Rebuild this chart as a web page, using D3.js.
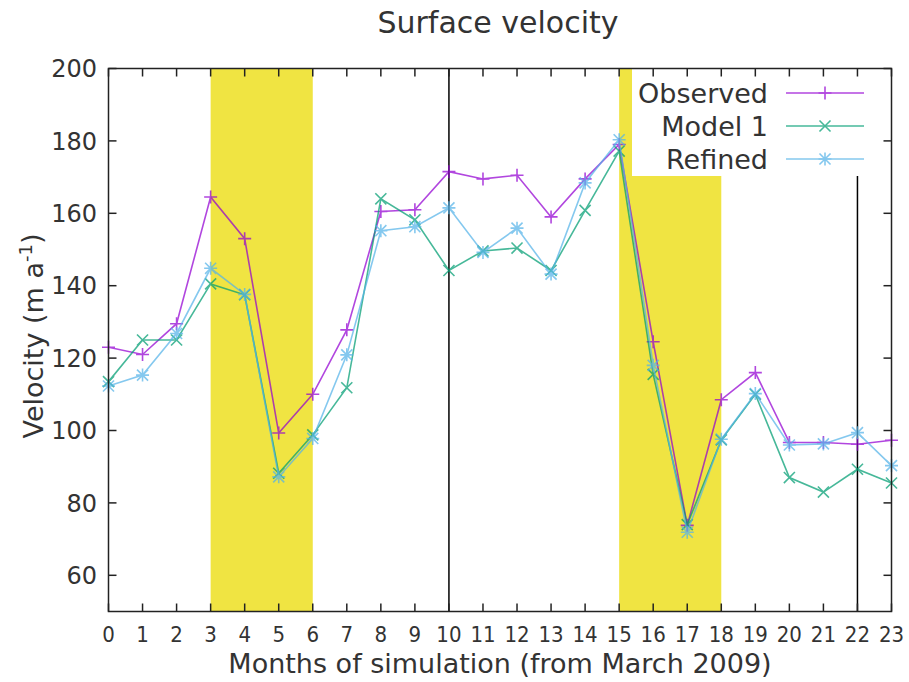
<!DOCTYPE html>
<html><head><meta charset="utf-8">
<script src="https://cdn.jsdelivr.net/npm/d3@7"></script>
<style>
body{margin:0;background:#fff;}
text{font-family:"DejaVu Sans",sans-serif;fill:#333;}
</style></head>
<body><svg id="c" width="909" height="682"></svg>
<script>
const months = d3.range(0, 24);
const observed = [123,121,129.5,164.5,153,99.3,110,127.8,160.5,161,171.5,169.5,170.5,159,169.5,179,124.5,73.8,108.5,116,96.7,96.7,96.2,97.3];
const model1 = [113.5,125,125,140.5,137.5,88.2,98.8,111.8,164,158.2,144.2,149.6,150.4,144.2,160.8,177.2,115.5,74,97.4,110,87,83,89.3,85.5];
const refined = [112.3,115.3,126.8,144.8,137.6,87.2,97.8,120.9,155.2,156.3,161.5,149.2,155.9,143.2,168.4,180.3,118,71.9,97.6,110.2,96,96.3,99.4,90.3];
const seriesNames = ["Observed","Model 1","Refined"];
const xTicks = d3.range(0, 24);
const yTicks = [60,80,100,120,140,160,180,200];
const bands = [[3,6],[15,18]];
const vLines = [10,22];

const svg = d3.select("#c");
const x = d3.scaleLinear().domain([0,23]).range([108.5,891.5]);
const y = d3.scaleLinear().domain([50,200]).range([611.5,68.5]);
const colors = ["#9400d3","#009e73","#56b4e9"];
const data = [observed, model1, refined];

svg.selectAll("rect.band").data(bands).join("rect")
  .attr("x", d=>x(d[0])).attr("width", d=>x(d[1])-x(d[0]))
  .attr("y", y(200)).attr("height", y(50)-y(200))
  .attr("fill","#f0e442");
svg.selectAll("line.v").data(vLines).join("line")
  .attr("x1", d=>x(d)).attr("x2", d=>x(d))
  .attr("y1", y(200)).attr("y2", y(50))
  .attr("stroke","#000").attr("stroke-width",1.5);

const legendTop = y(200), legendBottom = 176;
svg.append("rect").attr("x", 632).attr("y", legendTop)
  .attr("width", x(23)-632).attr("height", legendBottom-legendTop).attr("fill","#fff");

function marker(g, type, cx, cy, color){
  const s = 6.5;
  const p = d3.path();
  if(type===0 || type===2){ p.moveTo(cx-s,cy); p.lineTo(cx+s,cy); p.moveTo(cx,cy-s); p.lineTo(cx,cy+s); }
  if(type===1 || type===2){ const t=s*0.85; p.moveTo(cx-t,cy-t); p.lineTo(cx+t,cy+t); p.moveTo(cx-t,cy+t); p.lineTo(cx+t,cy-t); }
  g.append("path").attr("d", p.toString()).attr("stroke", color).attr("stroke-width",1.6).attr("fill","none");
}

const line = d3.line().x((d,i)=>x(months[i])).y(d=>y(d));
data.forEach((vals, k)=>{
  const g = svg.append("g").attr("opacity",0.72);
  g.append("path").attr("d", line(vals)).attr("fill","none").attr("stroke",colors[k]).attr("stroke-width",1.6);
  vals.forEach((v,i)=>marker(g, k, x(months[i]), y(v), colors[k]));
});

const legY = [93,126,159];
seriesNames.forEach((n,k)=>{
  svg.append("text").attr("x",768).attr("y",legY[k]).attr("dy","0.36em")
    .attr("text-anchor","end").attr("font-size",27).text(n);
  const g = svg.append("g").attr("opacity",0.72);
  g.append("line").attr("x1",786).attr("x2",864).attr("y1",legY[k]).attr("y2",legY[k])
    .attr("stroke",colors[k]).attr("stroke-width",1.6);
  marker(g, k, 825, legY[k], colors[k]);
});

const ax = svg.append("g").attr("stroke","#222").attr("stroke-width",1.5);
ax.append("rect").attr("x",x(0)).attr("y",y(200)).attr("width",x(23)-x(0)).attr("height",y(50)-y(200)).attr("fill","none");
const tl = 8;
xTicks.forEach(t=>{
  ax.append("line").attr("x1",x(t)).attr("x2",x(t)).attr("y1",y(50)).attr("y2",y(50)-tl);
  ax.append("line").attr("x1",x(t)).attr("x2",x(t)).attr("y1",y(200)).attr("y2",y(200)+tl);
});
yTicks.forEach(t=>{
  ax.append("line").attr("x1",x(0)).attr("x2",x(0)+tl).attr("y1",y(t)).attr("y2",y(t));
  ax.append("line").attr("x1",x(23)).attr("x2",x(23)-tl).attr("y1",y(t)).attr("y2",y(t));
});

svg.selectAll("text.xt").data(xTicks).join("text")
  .attr("x", d=>x(d)).attr("y", 634).attr("dy","0.36em").attr("text-anchor","middle")
  .attr("font-size",22).style("font-family","'DejaVu Sans Condensed','DejaVu Sans',sans-serif")
  .style("font-stretch","condensed").text(d=>d);
svg.selectAll("text.yt").data(yTicks).join("text")
  .attr("x", 97).attr("y", d=>y(d)).attr("dy","0.36em").attr("text-anchor","end")
  .attr("font-size",24).text(d=>d);

svg.append("text").attr("x",498).attr("y",22).attr("dy","0.36em").attr("text-anchor","middle")
  .attr("font-size",30).text("Surface velocity");
svg.append("text").attr("x",500).attr("y",663).attr("dy","0.36em").attr("text-anchor","middle")
  .attr("font-size",27).text("Months of simulation (from March 2009)");
const yl = svg.append("text").attr("transform","translate(33,336) rotate(-90)")
  .attr("text-anchor","middle").attr("dy","0.36em").attr("font-size",27);
yl.append("tspan").text("Velocity (m a");
yl.append("tspan").attr("font-size",18).attr("dy","-0.6em").text("-1");
yl.append("tspan").attr("dy","0.35em").text(")");
</script></body></html>
